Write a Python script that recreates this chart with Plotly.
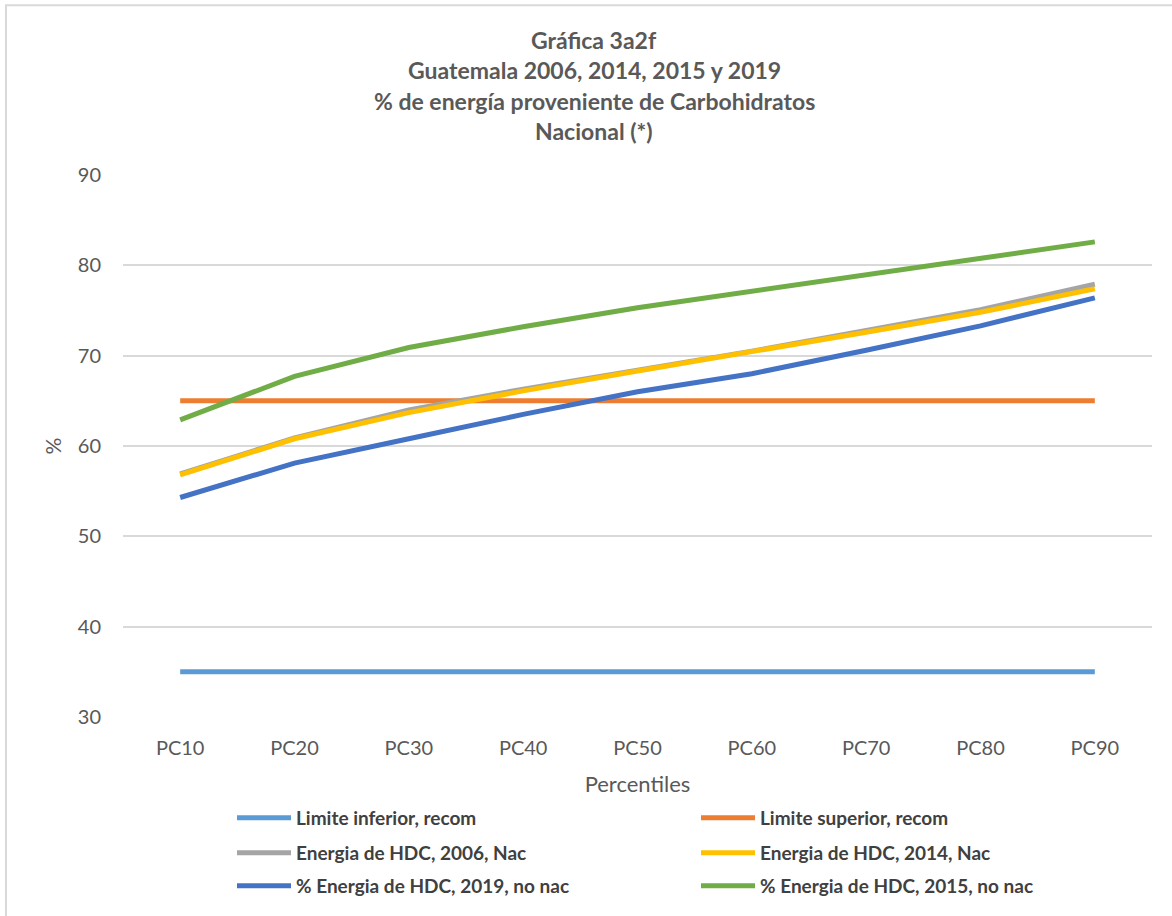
import plotly.graph_objects as go

# Percentile categories on the x axis
percentiles = ["PC10", "PC20", "PC30", "PC40", "PC50", "PC60", "PC70", "PC80", "PC90"]

# Recommended limits (% of energy from carbohydrates)
limite_inferior = [35, 35, 35, 35, 35, 35, 35, 35, 35]
limite_superior = [65, 65, 65, 65, 65, 65, 65, 65, 65]

# Survey series
hdc_2006_nac = [56.9, 60.9, 64.0, 66.3, 68.4, 70.5, 72.8, 75.1, 77.9]
hdc_2014_nac = [56.8, 60.8, 63.7, 66.1, 68.3, 70.4, 72.6, 74.8, 77.4]
hdc_2019_no_nac = [54.3, 58.1, 60.8, 63.5, 66.0, 68.0, 70.6, 73.3, 76.4]
hdc_2015_no_nac = [62.9, 67.7, 70.9, 73.2, 75.3, 77.1, 79.0, 80.7, 82.6]

series = [
    ("Limite inferior, recom", limite_inferior, "#5B9BD5", "legend"),
    ("Limite superior, recom", limite_superior, "#ED7D31", "legend"),
    ("Energia de HDC, 2006, Nac", hdc_2006_nac, "#A5A5A5", "legend2"),
    ("Energia de HDC, 2014, Nac", hdc_2014_nac, "#FFC000", "legend2"),
    ("% Energia de HDC, 2019, no nac", hdc_2019_no_nac, "#4472C4", "legend3"),
    ("% Energia de HDC, 2015, no nac", hdc_2015_no_nac, "#70AD47", "legend3"),
]

FONT = "Lato"
GREY = "#595959"

fig = go.Figure()
for name, values, color, legend in series:
    fig.add_trace(go.Scatter(
        x=percentiles, y=values, name=name, mode="lines",
        line=dict(color=color, width=5),
        legend=legend,
    ))

# Plot area spans pixels x 123..1152, y 175..718
L, R, T, B = 123, 1152, 175, 718
W, H = 1172, 916


def py(pix):
    return (B - pix) / (B - T)


def px(pix):
    return (pix - L) / (R - L)


title_lines = [
    ("Gráfica 3a2f", 40),
    ("Guatemala 2006, 2014, 2015 y 2019", 70),
    ("% de energía proveniente de Carbohidratos", 101),
    ("Nacional (*)", 131),
]
annotations = [
    dict(text=f"<b>{t}</b>", x=px(594), y=py(yy), xref="paper", yref="paper",
         xanchor="center", yanchor="middle", showarrow=False,
         font=dict(family=FONT, size=23, color=GREY))
    for t, yy in title_lines
]

legend_common = dict(
    orientation="h", xanchor="left", yanchor="middle",
    x=px(232), entrywidth=395, entrywidthmode="pixels",
    font=dict(family=FONT, size=19, color="#404040", weight="bold"),
    bgcolor="rgba(0,0,0,0)", itemwidth=54,
)

fig.update_layout(
    width=W, height=H,
    margin=dict(l=L, r=W - R, t=T, b=H - B),
    paper_bgcolor="white", plot_bgcolor="white",
    showlegend=True,
    font=dict(family=FONT, color=GREY),
    annotations=annotations,
    legend=dict(legend_common, y=py(818)),
    legend2=dict(legend_common, y=py(853)),
    legend3=dict(legend_common, y=py(886)),
    xaxis=dict(
        range=[-0.5, len(percentiles) - 0.5],
        showgrid=False, showline=False, zeroline=False,
        tickfont=dict(family=FONT, size=20, color=GREY),
        ticklabelstandoff=17,
        title=dict(text="Percentiles", font=dict(family=FONT, size=22, color=GREY), standoff=18),
    ),
    yaxis=dict(
        range=[30, 90], dtick=10, tick0=30,
        showgrid=True, gridcolor="#D9D9D9", gridwidth=1.5,
        zeroline=False, showline=False,
        tickfont=dict(family=FONT, size=20, color=GREY),
        ticklabelstandoff=21,
        title=dict(text="%", font=dict(family=FONT, size=21, color=GREY), standoff=10),
    ),
    shapes=[
        dict(type="rect", xref="paper", yref="paper",
             x0=px(6), x1=px(1190), y0=py(940), y1=py(5),
             line=dict(color="#D9D9D9", width=2), fillcolor="rgba(0,0,0,0)", layer="below"),
    ],
)

fig.write_html("out.html")
